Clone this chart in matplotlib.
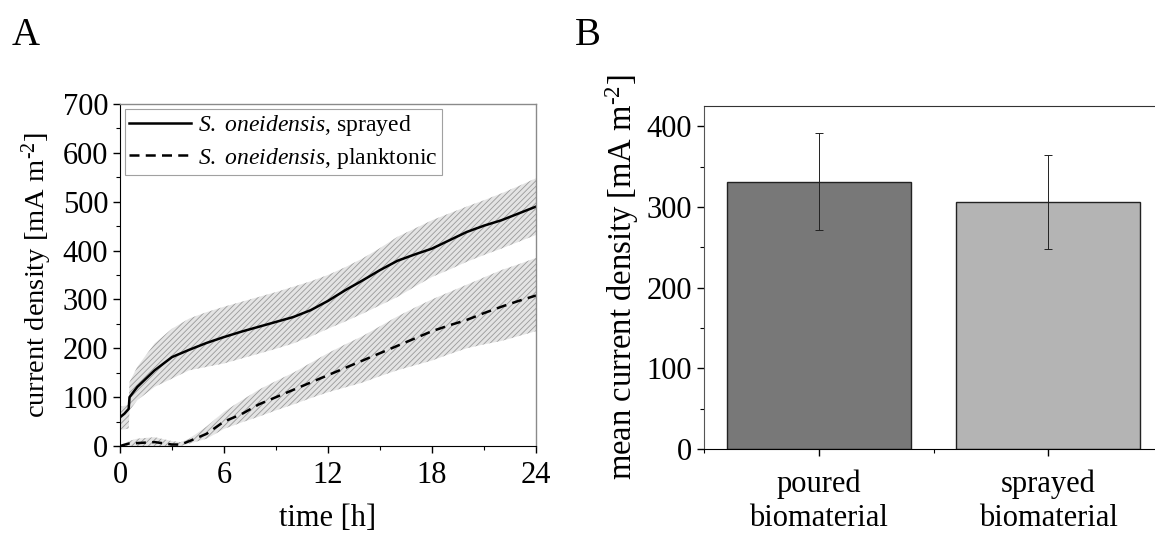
import numpy as np
import matplotlib
matplotlib.use("Agg")
import matplotlib.pyplot as plt
from matplotlib.ticker import MultipleLocator

plt.rcParams['font.family'] = ['Liberation Serif', 'DejaVu Serif']
plt.rcParams['mathtext.fontset'] = 'custom'
plt.rcParams['mathtext.rm'] = 'Liberation Serif'
plt.rcParams['mathtext.it'] = 'Liberation Serif:italic'
plt.rcParams['hatch.color'] = '#9a9a9a'
plt.rcParams['hatch.linewidth'] = 0.6

# panel A: current density over time (mean and spread)
t_spr = [0, 0.25, 0.5, 0.55, 1, 2, 3, 4, 5, 6, 7, 8, 9, 10, 11, 12, 13, 14,
         15, 16, 17, 18, 19, 20, 21, 22, 23, 24]
mean_spr = [59, 66, 76, 100, 121, 155, 182, 197, 211, 223, 234, 244, 254, 264,
            278, 297, 319, 339, 360, 379, 392, 404, 421, 438, 451, 462, 476, 490]
upper_spr = [80, 82, 85, 131, 162, 210, 240, 261, 274, 285, 295, 305, 315, 326,
             337, 350, 366, 384, 405, 428, 445, 462, 476, 490, 503, 517, 532, 548]
lower_spr = [33, 34, 36, 73, 94, 121, 138, 155, 162, 169, 179, 189, 199, 210,
             224, 240, 255, 271, 288, 305, 326, 346, 361, 377, 391, 404, 418, 432]

t_pla = [0, 0.5, 1, 2, 3, 3.5, 4, 5, 6, 7, 8, 9, 10, 11, 12, 13, 14, 15, 16,
         17, 18, 19, 20, 21, 22, 23, 24]
mean_pla = [0, 5, 6, 8, 3, 3, 10, 25, 50, 65, 85, 100, 115, 130, 145, 160, 175,
            190, 205, 220, 235, 247, 258, 272, 285, 297, 308]
upper_pla = [0, 10, 15, 18, 10, 8, 15, 40, 70, 93, 115, 133, 150, 170, 190, 208,
             225, 245, 265, 283, 300, 315, 330, 345, 360, 372, 385]
lower_pla = [0, 0, 0, 0, 0, 0, 5, 15, 35, 48, 60, 73, 85, 98, 110, 120, 130,
             143, 155, 165, 175, 188, 200, 208, 215, 225, 235]

# panel B: mean current density per preparation
categories = ['poured\nbiomaterial', 'sprayed\nbiomaterial']
bar_means = [331, 306]
bar_errs = [60, 58]
bar_colors = ['#787878', '#b4b4b4']

unit = r'[mA m$^{\text{-2}}$]'

W, H = 1155, 534
fig = plt.figure(figsize=(W / 100, H / 100), dpi=100)

# ---- A ----
axA = fig.add_axes([120 / W, 1 - 446 / H, 416 / W, 342 / H])
axA.fill_between(t_spr, lower_spr, upper_spr, facecolor='#e4e4e4',
                 edgecolor='#9a9a9a', hatch='//////', linewidth=0)
axA.fill_between(t_pla, lower_pla, upper_pla, facecolor='#e4e4e4',
                 edgecolor='#9a9a9a', hatch='//////', linewidth=0)
axA.plot(t_spr, mean_spr, color='black', lw=1.8,
         label=r'$\it{S.\ oneidensis}$, sprayed')
axA.plot(t_pla, mean_pla, color='black', lw=1.8, ls=(0, (4, 2.5)),
         label=r'$\it{S.\ oneidensis}$, planktonic')
axA.set_xlim(0, 24)
axA.set_ylim(0, 700)
axA.xaxis.set_major_locator(MultipleLocator(6))
axA.xaxis.set_minor_locator(MultipleLocator(3))
axA.yaxis.set_major_locator(MultipleLocator(100))
axA.yaxis.set_minor_locator(MultipleLocator(50))
axA.tick_params(which='both', direction='out', labelsize=22, top=False, right=False)
axA.tick_params(which='major', length=5, width=1)
axA.tick_params(which='minor', length=3, width=0.8)
axA.tick_params(axis='x', pad=6)
for s in ['top', 'right']:
    axA.spines[s].set_color('#8a8a8a')
    axA.spines[s].set_linewidth(1)
axA.set_xlabel('time [h]', fontsize=22, labelpad=10)
axA.set_ylabel('current density ' + unit, fontsize=20.5, labelpad=6)
leg = axA.legend(loc='upper left', fontsize=17, frameon=True, fancybox=False,
                 handlelength=2.6, handletextpad=0.3, borderpad=0.2,
                 labelspacing=0.3, borderaxespad=0.2, edgecolor='#8a8a8a')
leg.get_frame().set_linewidth(0.8)

# ---- B ----
axB = fig.add_axes([704 / W, 1 - 449 / H, 459 / W, 343 / H])
xpos = np.arange(1, len(categories) + 1)
axB.bar(xpos, bar_means, width=0.8, color=bar_colors, edgecolor='#222222',
        linewidth=1, yerr=bar_errs, capsize=3,
        error_kw=dict(elinewidth=0.7, capthick=0.7, ecolor='#222222'))
axB.set_xlim(0.5, 2.5)
axB.set_ylim(0, 425)
axB.set_xticks(xpos)
axB.set_xticklabels(categories, linespacing=1.2)
axB.xaxis.set_minor_locator(MultipleLocator(0.5))
axB.yaxis.set_major_locator(MultipleLocator(100))
axB.yaxis.set_minor_locator(MultipleLocator(50))
axB.tick_params(which='both', direction='out', labelsize=22, top=False, right=False)
axB.tick_params(which='major', length=5, width=1)
axB.tick_params(which='minor', length=3, width=0.8)
axB.tick_params(axis='x', pad=10)
axB.spines['left'].set_color('#555555')
axB.spines['top'].set_color('#333333')
axB.set_ylabel('mean current density ' + unit, fontsize=23.5, labelpad=4)

fig.text(12 / W, 1 - 45 / H, 'A', fontsize=28)
fig.text(575 / W, 1 - 45 / H, 'B', fontsize=28)

fig.savefig('out.png', dpi=100)
